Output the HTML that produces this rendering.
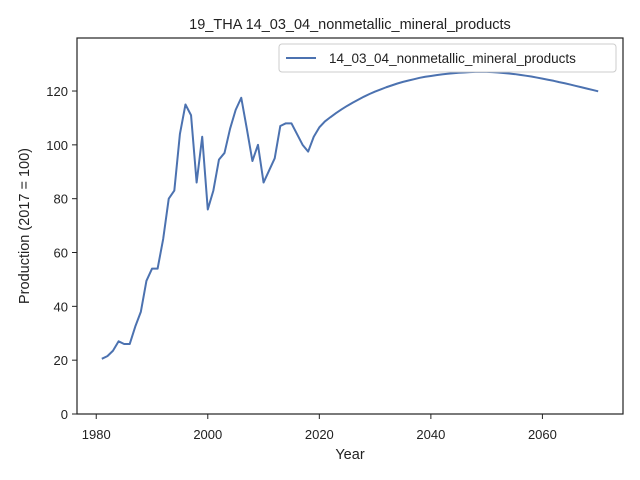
<!DOCTYPE html>
<html><head><meta charset="utf-8"><style>body{margin:0;background:#fff}svg{display:block;font-family:"Liberation Sans","DejaVu Sans",sans-serif}</style></head>
<body>
<svg id="chart" width="640" height="480" viewBox="0 0 640 480">
<rect width="640" height="480" fill="#fff"/>
<text x="350" y="29" font-size="14.5" text-anchor="middle" fill="#222">19_THA 14_03_04_nonmetallic_mineral_products</text>
<g id="axes"></g>
<path id="series" fill="none" stroke="#4c72b0" stroke-width="2" stroke-linejoin="round"/>
<rect x="77" y="38" width="546" height="376" fill="none" stroke="#222" stroke-width="1.2"/>
<g>
<rect x="279" y="44" width="337" height="28" rx="3" fill="#fff" stroke="#ccc"/>
<line x1="286" y1="58" x2="316" y2="58" stroke="#4c72b0" stroke-width="2"/>
<text x="329" y="63" font-size="13.5" fill="#222">14_03_04_nonmetallic_mineral_products</text>
</g>
<text x="350" y="459" font-size="14.5" text-anchor="middle" fill="#222">Year</text>
<text transform="translate(29,226) rotate(-90)" font-size="14.5" text-anchor="middle" fill="#222">Production (2017 = 100)</text>
</svg>
<script>
const startYear = 1981;
const values = [20.5,21.5,23.5,27,26,26,32.5,38,49.5,54,54,65,80,83,104,115,111,86,103,76,83,94.5,97,106,113,117.5,106,94,100,86,90.5,95,107,108,108,104,100,97.5,103,106.5,
108.7,110.3,111.8,113.2,114.5,115.7,116.8,117.9,118.9,119.8,120.6,121.4,122.1,122.8,123.4,123.9,124.4,124.9,125.3,125.6,125.9,126.2,126.4,126.6,126.8,126.9,127.0,127.1,127.1,127.1,127.0,126.9,126.7,126.5,126.3,126.0,125.7,125.4,125.0,124.6,124.2,123.8,123.3,122.9,122.4,121.9,121.4,120.9,120.4,119.9];
const xTicks = [1980,2000,2020,2040,2060];
const yTicks = [0,20,40,60,80,100,120];

const L=77,R=623,T=38,B=414;
const x0=1976.55,x1=2074.45,y0=0,y1=139.7;
const sx=v=>L+(v-x0)/(x1-x0)*(R-L);
const sy=v=>B-(v-y0)/(y1-y0)*(B-T);
const NS="http://www.w3.org/2000/svg";
const axes=document.getElementById('axes');
function mk(tag,attrs){const e=document.createElementNS(NS,tag);for(const k in attrs)e.setAttribute(k,attrs[k]);axes.appendChild(e);return e;}
xTicks.forEach(t=>{
  const l=mk('line',{x1:sx(t),x2:sx(t),y1:B,y2:B+5,stroke:'#222'});
  
  
  const s=mk('text',{x:sx(t),y:B+25,'font-size':13,'text-anchor':'middle',fill:'#222'});
  s.textContent=t;
  
  
});
yTicks.forEach(t=>{
  const l=mk('line',{x1:L-5,x2:L,y1:sy(t),y2:sy(t),stroke:'#222'});
  
  
  const s=mk('text',{x:L-9,y:sy(t)+5,'font-size':13,'text-anchor':'end',fill:'#222'});
  s.textContent=t;
  
  
});
document.getElementById('series').setAttribute('d',values.map((v,i)=>(i?'L':'M')+sx(startYear+i).toFixed(2)+','+sy(v).toFixed(2)).join(''));
</script>
</body></html>
